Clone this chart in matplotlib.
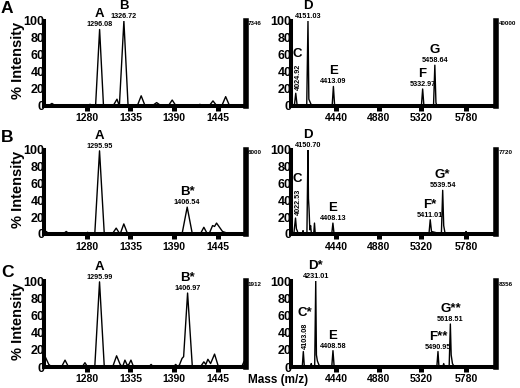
import matplotlib
matplotlib.use("Agg")
import matplotlib.pyplot as plt

plt.rcParams['font.family'] = ['Liberation Sans', 'DejaVu Sans']

# ---------------- data ----------------
left_ticks = [1280, 1335, 1390, 1445]
right_ticks = [4440, 4880, 5320, 5780]
y_ticks = [0, 20, 40, 60, 80, 100]
left_xlim = (1226, 1480)
right_xlim = (3976, 6089)

# Panel A
A_left_x = [1226, 1231, 1236, 1241, 1280, 1284, 1288, 1291, 1296.1, 1301, 1313, 1318, 1321,
            1326.7, 1332, 1343.5, 1348.5, 1353.5, 1362, 1368, 1374, 1382.5, 1387.6,
            1392.5, 1419, 1422.5, 1426, 1434, 1439, 1444, 1450, 1455, 1460, 1480]
A_left_y = [3, 0, 3, 0, 0, 2, 0, 0, 90, 0, 0, 8, 0, 100, 0, 0, 12, 0, 0, 4, 0, 0, 7, 0,
            0, 2, 0, 0, 6, 0, 0, 11, 0, 0]
A_right_x = [3976, 4010, 4025, 4040, 4138, 4151, 4160, 4175, 4190, 4400, 4413, 4426, 5320,
             5333, 5346, 5445, 5458.6, 5470, 5480, 6089]
A_right_y = [0, 0, 15, 0, 0, 100, 8, 4, 0, 0, 23, 0, 0, 20, 0, 0, 48, 4, 0, 0]

# Panel B
B_left_x = [1226, 1229, 1232, 1250, 1254, 1258, 1278, 1281, 1284, 1290, 1296, 1302, 1312,
            1317, 1321, 1322, 1326.6, 1331.5, 1400, 1406.5, 1413, 1423, 1427.5, 1432, 1434,
            1438.5, 1441, 1443.5, 1451, 1460, 1480]
B_left_y = [0, 3, 0, 0, 3, 0, 0, 2, 0, 0, 99, 0, 0, 7, 1, 0, 12, 0, 0, 32, 0, 0, 8, 0, 0,
            10, 9, 13, 3, 0, 0]
B_right_x = [3976, 4005, 4022.5, 4032, 4040, 4050, 4095, 4100, 4105, 4140, 4150.7, 4156,
             4162, 4170, 4178, 4185, 4192, 4210, 4218, 4226, 4396, 4408, 4420, 5398, 5411,
             5424, 5526, 5539.5, 5550, 5565, 5775, 5780, 5785, 6089]
B_right_y = [0, 0, 19, 6, 4, 0, 0, 4, 0, 0, 100, 42, 30, 5, 10, 2, 0, 0, 13, 0, 0, 13, 0,
             0, 17, 3, 0, 52, 10, 0, 0, 3, 0, 0]

# Panel C
C_left_x = [1226, 1227, 1232, 1236, 1248, 1252.5, 1257, 1274, 1277.6, 1281, 1290, 1296,
            1302, 1312.5, 1317.5, 1322, 1325, 1328, 1331, 1333, 1335.6, 1339, 1358, 1361,
            1364, 1389, 1392, 1395, 1397, 1400, 1402, 1407, 1413, 1423, 1427.5, 1430,
            1432.6, 1436, 1441, 1446, 1475, 1478, 1480]
C_left_y = [10, 13, 3, 0, 0, 8, 0, 0, 5, 0, 0, 99, 0, 0, 13, 3, 0, 8, 2, 3, 8, 0, 0, 3,
            0, 0, 3, 0, 3, 10, 12, 86, 0, 0, 6, 3, 9, 4, 15, 0, 0, 6, 8]
C_right_x = [3976, 4092, 4103, 4114, 4178, 4185, 4192, 4220, 4231, 4238, 4248, 4262, 4275,
             4396, 4408.6, 4421, 5479, 5491, 5500, 5512, 5540, 5550, 5560, 5606, 5618.5,
             5627, 5640, 5660, 6089]
C_right_y = [0, 0, 18, 0, 0, 4, 0, 0, 100, 14, 7, 3, 0, 0, 19, 0, 0, 18, 2, 0, 0, 4, 0,
             0, 50, 14, 4, 0, 0]

# peak labels: (letter, mass text, x, height)
A_left_labels = [("A", "1296.08", 1296.1, 90), ("B", "1326.72", 1326.7, 100)]
A_right_labels = [("C", "4024.92", 4025, 15), ("D", "4151.03", 4151, 100),
                  ("E", "4413.09", 4413, 23), ("F", "5332.97", 5333, 20),
                  ("G", "5458.64", 5458.6, 48)]
B_left_labels = [("A", "1295.95", 1296, 99), ("B*", "1406.54", 1406.5, 32)]
B_right_labels = [("C", "4022.53", 4022.5, 19), ("D", "4150.70", 4150.7, 100),
                  ("E", "4408.13", 4408, 13), ("F*", "5411.01", 5411, 17),
                  ("G*", "5539.54", 5539.5, 52)]
C_left_labels = [("A", "1295.99", 1296, 99), ("B*", "1406.97", 1407, 86)]
C_right_labels = [("C*", "4103.08", 4103, 18), ("D*", "4231.01", 4231, 100),
                  ("E", "4408.58", 4408.6, 19), ("F**", "5490.95", 5491, 18),
                  ("G**", "5618.51", 5618.5, 50)]
rotated_letters = ["C", "C*"]

# absolute intensity at top right of each panel
A_scales = ["7346", "40000"]
B_scales = ["6000", "7720"]
C_scales = ["1912", "8356"]
panel_letters = ["A", "B", "C"]

# ---------------- layout ----------------
W, H = 520, 388
fig = plt.figure(figsize=(W / 100, H / 100), dpi=100)

rows_px = [(21, 106), (150, 234), (281, 367)]
cols_px = [(44, 245.5), (291, 496)]
letter_base_px = [13, 142, 277]

data = [
    [(A_left_x, A_left_y, A_left_labels), (A_right_x, A_right_y, A_right_labels)],
    [(B_left_x, B_left_y, B_left_labels), (B_right_x, B_right_y, B_right_labels)],
    [(C_left_x, C_left_y, C_left_labels), (C_right_x, C_right_y, C_right_labels)],
]
scales = [A_scales, B_scales, C_scales]

for r, (top, bot) in enumerate(rows_px):
    for c, (l, rgt) in enumerate(cols_px):
        ax = fig.add_axes([l / W, 1 - bot / H, (rgt - l) / W, (bot - top) / H])
        xs, ys, labels = data[r][c]
        ax.plot(xs, ys, color='black', lw=1.0, zorder=2)
        ax.set_xlim(left_xlim if c == 0 else right_xlim)
        ax.set_ylim(0, 100)
        ticks = left_ticks if c == 0 else right_ticks
        ax.set_xticks(ticks)
        ax.set_yticks(y_ticks)
        ax.set_xticklabels([str(t) for t in ticks], fontweight='bold')
        ax.set_yticklabels([str(t) for t in y_ticks], fontweight='bold')
        ax.tick_params(axis='x', direction='out', length=3.6, width=3.6, pad=1.8,
                       labelsize=7.5)
        ax.tick_params(axis='y', length=0, pad=-0.5, labelsize=9)
        ax.spines['top'].set_visible(False)
        ax.spines['left'].set_linewidth(2.9)
        ax.spines['bottom'].set_linewidth(2.9)
        ax.spines['right'].set_linewidth(4.0)
        ax.patch.set_alpha(0)

        for letter, num, x, h in labels:
            if letter in rotated_letters:
                ax.annotate(num, (x, h), xytext=(2.5, 3), textcoords='offset pixels',
                            rotation=90, ha='center', va='bottom', fontsize=5.2,
                            fontweight='bold', zorder=4,
                            bbox=dict(fc='white', ec='none', pad=0.3))
                ax.annotate(letter, (x, h), xytext=(1.5, 39), textcoords='offset pixels',
                            ha='center', va='center', fontsize=9.5, fontweight='bold',
                            zorder=4)
            else:
                ax.annotate(num, (x, h), xytext=(0, 4.5), textcoords='offset pixels',
                            ha='center', va='center', fontsize=5.2, fontweight='bold',
                            zorder=4)
                ax.annotate(letter, (x, h), xytext=(0, 15), textcoords='offset pixels',
                            ha='center', va='center', fontsize=9.5, fontweight='bold',
                            zorder=4)

        ax.annotate(scales[r][c], (1, 1), xycoords='axes fraction', xytext=(2.5, -3),
                    textcoords='offset pixels', ha='left', va='center', fontsize=4.5,
                    fontweight='bold')

        if c == 0:
            fig.text(18 / W, 1 - ((top + bot) / 2 - 3) / H, "% Intensity", rotation=90,
                     ha='center', va='center', fontsize=10.5, fontweight='bold')

    fig.text(1 / W, 1 - letter_base_px[r] / H, panel_letters[r], ha='left',
             va='baseline', fontsize=12.5, fontweight='bold')

fig.text(278 / W, 1 - 380 / H, "Mass (m/z)", ha='center', va='center', fontsize=8.5,
         fontweight='bold')

fig.savefig("out.png", dpi=100)
